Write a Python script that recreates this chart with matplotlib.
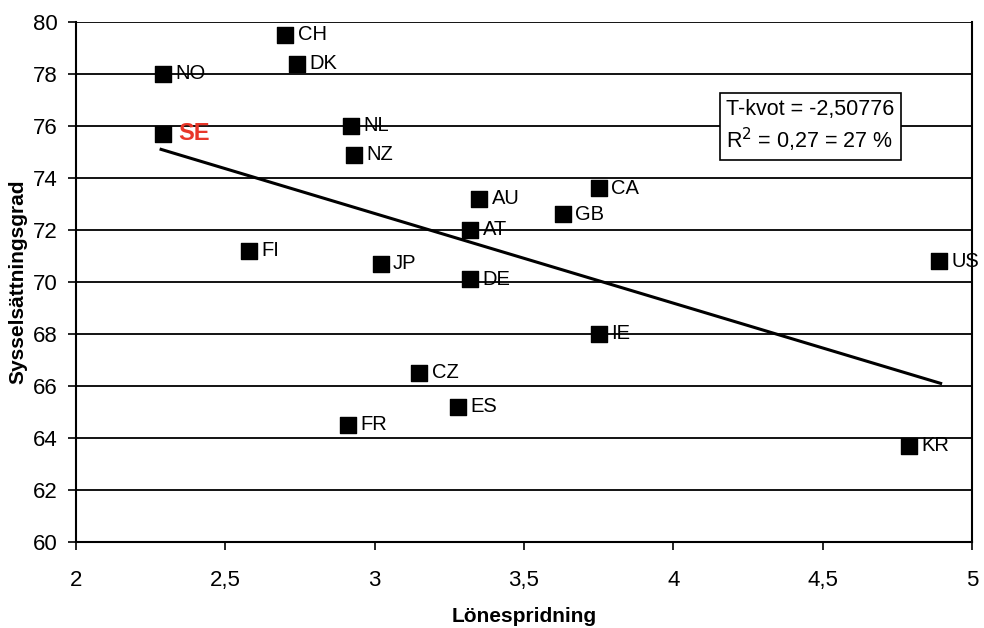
import matplotlib.pyplot as plt
from matplotlib.ticker import FuncFormatter

plt.rcParams['font.family'] = ['Liberation Sans', 'DejaVu Sans']

countries = ['CH', 'DK', 'NO', 'SE', 'NL', 'NZ', 'AU', 'CA', 'GB', 'AT',
             'FI', 'JP', 'DE', 'US', 'IE', 'CZ', 'ES', 'FR', 'KR']
spread = [2.70, 2.74, 2.29, 2.29, 2.92, 2.93, 3.35, 3.75, 3.63, 3.32,
          2.58, 3.02, 3.32, 4.89, 3.75, 3.15, 3.28, 2.91, 4.79]
employment = [79.5, 78.4, 78.0, 75.7, 76.0, 74.9, 73.2, 73.6, 72.6, 72.0,
              71.2, 70.7, 70.1, 70.8, 68.0, 66.5, 65.2, 64.5, 63.7]

# trend line
trend_x = [2.285, 4.895]
trend_y = [75.1, 66.1]

fig = plt.figure(figsize=(9.84, 6.28), dpi=100)
ax = fig.add_axes([0.0772, 0.137, 0.9106, 0.828])

for y in range(62, 81, 2):
    ax.axhline(y, color='black', lw=1.3, zorder=1)

ax.plot(trend_x, trend_y, color='black', lw=2.2, zorder=2)
ax.scatter(spread, employment, marker='s', s=125, color='black', zorder=3)

for c, x, y in zip(countries, spread, employment):
    if c == 'SE':
        ax.annotate(c, (x, y), xytext=(11, 0), textcoords='offset points',
                    va='center', fontsize=17, fontweight='bold', color='#e8372a')
    else:
        ax.annotate(c, (x, y), xytext=(9, 0), textcoords='offset points',
                    va='center', fontsize=14.5, color='black')

ax.text(4.178, 75.98, 'T-kvot = -2,50776\nR$^2$ = 0,27 = 27 %', fontsize=15.5,
        va='center', ha='left', linespacing=1.25,
        bbox=dict(boxstyle='square,pad=0.3', fc='white', ec='black', lw=1.2), zorder=4)

ax.set_xlim(2, 5)
ax.set_ylim(60, 80)
ax.set_xticks([2, 2.5, 3, 3.5, 4, 4.5, 5])
ax.set_yticks(range(60, 81, 2))
ax.xaxis.set_major_formatter(FuncFormatter(lambda v, p: ('%g' % v).replace('.', ',')))
ax.tick_params(direction='out', length=6, width=1.2, labelsize=16, pad=7)
ax.tick_params(axis='x', pad=14)
for s in ['left', 'right', 'bottom']:
    ax.spines[s].set_linewidth(1.5)
ax.spines['top'].set_visible(False)

ax.set_xlabel('Lönespridning', fontsize=15, fontweight='bold', labelpad=12)
ax.set_ylabel('Sysselsättningsgrad', fontsize=15, fontweight='bold', labelpad=4)

fig.savefig('out.png', dpi=100)
